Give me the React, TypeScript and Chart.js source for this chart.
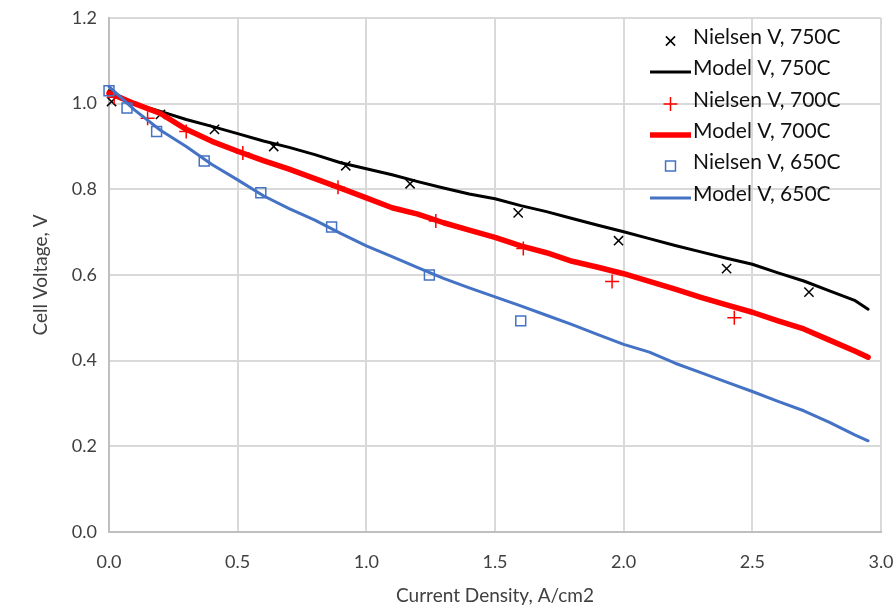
import React, { useEffect, useRef } from 'react';
import { Chart, registerables } from 'chart.js';

Chart.register(...registerables);

// ---- Data ----
const nielsen750X = [0.01, 0.2, 0.41, 0.64, 0.92, 1.17, 1.59, 1.98, 2.4, 2.72];
const nielsen750Y = [1.005, 0.975, 0.94, 0.9, 0.855, 0.813, 0.745, 0.68, 0.615, 0.56];

const nielsen700X = [0.02, 0.15, 0.3, 0.52, 0.89, 1.27, 1.61, 1.955, 2.43];
const nielsen700Y = [1.015, 0.966, 0.935, 0.885, 0.805, 0.726, 0.662, 0.585, 0.5];

const nielsen650X = [0.0, 0.07, 0.185, 0.37, 0.59, 0.865, 1.245, 1.6];
const nielsen650Y = [1.03, 0.99, 0.935, 0.866, 0.792, 0.712, 0.6, 0.493];

const modelX = [
  0, 0.1, 0.2, 0.3, 0.4, 0.5, 0.6, 0.7, 0.8, 0.9, 1.0, 1.1, 1.2, 1.3, 1.4, 1.5,
  1.6, 1.7, 1.8, 1.9, 2.0, 2.1, 2.2, 2.3, 2.4, 2.5, 2.6, 2.7, 2.8, 2.9, 2.95,
];
const model750Y = [
  1.03, 1.0, 0.982, 0.963, 0.947, 0.93, 0.913, 0.898, 0.881, 0.862, 0.848, 0.834,
  0.818, 0.803, 0.789, 0.778, 0.762, 0.748, 0.732, 0.716, 0.701, 0.685, 0.669,
  0.654, 0.639, 0.625, 0.605, 0.586, 0.563, 0.54, 0.52,
];
const model700Y = [
  1.025, 1.0, 0.977, 0.94, 0.912, 0.889, 0.867, 0.847, 0.825, 0.803, 0.78, 0.757,
  0.742, 0.722, 0.705, 0.688, 0.668, 0.652, 0.632, 0.618, 0.603, 0.585, 0.567,
  0.548, 0.53, 0.513, 0.493, 0.474, 0.448, 0.422, 0.408,
];
const model650Y = [
  1.04, 0.985, 0.938, 0.9, 0.858, 0.822, 0.785, 0.755, 0.728, 0.697, 0.668, 0.643,
  0.617, 0.592, 0.57, 0.549, 0.528, 0.506, 0.484, 0.461, 0.438, 0.42, 0.394,
  0.372, 0.35, 0.328, 0.305, 0.283, 0.256, 0.226, 0.213,
];

const seriesLabels = [
  'Nielsen V, 750C',
  'Model V, 750C',
  'Nielsen V, 700C',
  'Model V, 700C',
  'Nielsen V, 650C',
  'Model V, 650C',
];

const xAxisTitle = 'Current Density, A/cm2';
const yAxisTitle = 'Cell Voltage, V';

const FONT = 'Lato, "Open Sans", sans-serif';
const BLACK = '#000000';
const RED = '#FF0000';
const BLUE = '#4472C4';

const pts = (xs: number[], ys: number[]) => xs.map((x, i) => ({ x, y: ys[i] }));

function drawMarker(ctx: CanvasRenderingContext2D, style: string, x: number, y: number, r: number) {
  ctx.beginPath();
  if (style === 'crossRot') {
    const d = Math.SQRT1_2 * r;
    ctx.moveTo(x - d, y - d);
    ctx.lineTo(x + d, y + d);
    ctx.moveTo(x + d, y - d);
    ctx.lineTo(x - d, y + d);
  } else if (style === 'cross') {
    ctx.moveTo(x - r, y);
    ctx.lineTo(x + r, y);
    ctx.moveTo(x, y - r);
    ctx.lineTo(x, y + r);
  } else if (style === 'rect') {
    const s = Math.SQRT1_2 * r;
    ctx.rect(x - s, y - s, 2 * s, 2 * s);
  }
  ctx.stroke();
}

const legendPlugin = {
  id: 'insideLegend',
  afterDatasetsDraw(chart: any) {
    const ctx: CanvasRenderingContext2D = chart.ctx;
    const rowsY = [37, 68, 100, 131, 162, 194];
    const textX = 693;
    const sampleL = 650;
    const sampleR = 691;
    ctx.save();
    ctx.font = `21px ${FONT}`;
    ctx.textBaseline = 'middle';
    ctx.textAlign = 'left';
    chart.data.datasets.forEach((ds: any, i: number) => {
      const y = rowsY[i];
      ctx.strokeStyle = ds.borderColor;
      if (ds.showLine) {
        ctx.lineWidth = ds.borderWidth;
        ctx.lineCap = 'butt';
        ctx.beginPath();
        ctx.moveTo(sampleL, y + 4);
        ctx.lineTo(sampleR, y + 4);
        ctx.stroke();
      } else {
        ctx.lineWidth = ds.borderWidth;
        drawMarker(ctx, ds.pointStyle, (sampleL + sampleR) / 2, y + 4, ds.pointRadius);
      }
      ctx.fillStyle = '#111111';
      ctx.fillText(ds.label, textX, y);
    });
    ctx.restore();
  },
};

export default function App() {
  const canvasRef = useRef<HTMLCanvasElement | null>(null);

  useEffect(() => {
    document.body.style.margin = '0';
    const canvas = canvasRef.current;
    if (!canvas) return;

    const markerBase = {
      showLine: false,
      backgroundColor: 'rgba(0,0,0,0)',
      borderWidth: 1.5,
      pointBorderWidth: 1.5,
      clip: false as const,
    };
    const lineBase = {
      showLine: true,
      pointRadius: 0,
      pointHoverRadius: 0,
      tension: 0,
      borderCapStyle: 'round' as const,
      borderJoinStyle: 'round' as const,
      backgroundColor: 'rgba(0,0,0,0)',
      clip: false as const,
    };

    const chart = new Chart(canvas, {
      type: 'scatter',
      data: {
        datasets: [
          {
            ...markerBase,
            label: seriesLabels[0],
            data: pts(nielsen750X, nielsen750Y),
            pointStyle: 'crossRot',
            pointRadius: 6.5,
            borderColor: BLACK,
            order: 6,
          },
          {
            ...lineBase,
            label: seriesLabels[1],
            data: pts(modelX, model750Y),
            borderColor: BLACK,
            borderWidth: 3,
            order: 5,
          },
          {
            ...markerBase,
            label: seriesLabels[2],
            data: pts(nielsen700X, nielsen700Y),
            pointStyle: 'cross',
            pointRadius: 7,
            borderColor: RED,
            order: 4,
          },
          {
            ...lineBase,
            label: seriesLabels[3],
            data: pts(modelX, model700Y),
            borderColor: RED,
            borderWidth: 5.5,
            order: 3,
          },
          {
            ...markerBase,
            label: seriesLabels[4],
            data: pts(nielsen650X, nielsen650Y),
            pointStyle: 'rect',
            pointRadius: 7,
            borderColor: BLUE,
            order: 2,
          },
          {
            ...lineBase,
            label: seriesLabels[5],
            data: pts(modelX, model650Y),
            borderColor: BLUE,
            borderWidth: 3,
            order: 1,
          },
        ] as any,
      },
      options: {
        responsive: false,
        animation: false,
        devicePixelRatio: 1,
        layout: { padding: { left: 0, top: 18, right: 15, bottom: 0 } },
        plugins: {
          legend: { display: false },
          tooltip: { enabled: false },
        },
        scales: {
          x: {
            type: 'linear',
            min: 0,
            max: 3,
            afterFit: (s: any) => {
              s.height = 77;
              s.paddingLeft = 0;
              s.paddingRight = 0;
            },
            ticks: {
              stepSize: 0.5,
              callback: (v: any) => Number(v).toFixed(1),
              font: { family: FONT, size: 18 },
              color: '#404040',
              padding: 19,
              maxRotation: 0,
            },
            grid: { color: '#d9d9d9', lineWidth: 2, drawTicks: false },
            border: { color: '#bfbfbf', width: 2 },
            title: {
              display: true,
              text: xAxisTitle,
              font: { family: FONT, size: 19 },
              color: '#404040',
              padding: { top: 0, bottom: 2 },
            },
          },
          y: {
            type: 'linear',
            min: 0,
            max: 1.2,
            afterFit: (s: any) => {
              s.width = 109;
              s.paddingTop = 0;
              s.paddingBottom = 0;
            },
            ticks: {
              stepSize: 0.2,
              callback: (v: any) => Number(v).toFixed(1),
              font: { family: FONT, size: 18 },
              color: '#404040',
              padding: 12,
            },
            grid: { color: '#d9d9d9', lineWidth: 2, drawTicks: false },
            border: { color: '#bfbfbf', width: 2 },
            title: {
              display: true,
              text: yAxisTitle,
              font: { family: FONT, size: 19 },
              color: '#404040',
              padding: { top: 29, bottom: 0 },
            },
          },
        },
      } as any,
      plugins: [legendPlugin],
    });

    return () => {
      chart.destroy();
    };
  }, []);

  return (
    <div style={{ width: 896, height: 609, background: '#ffffff' }}>
      <canvas ref={canvasRef} width={896} height={609} style={{ width: 896, height: 609, display: 'block' }} />
    </div>
  );
}
